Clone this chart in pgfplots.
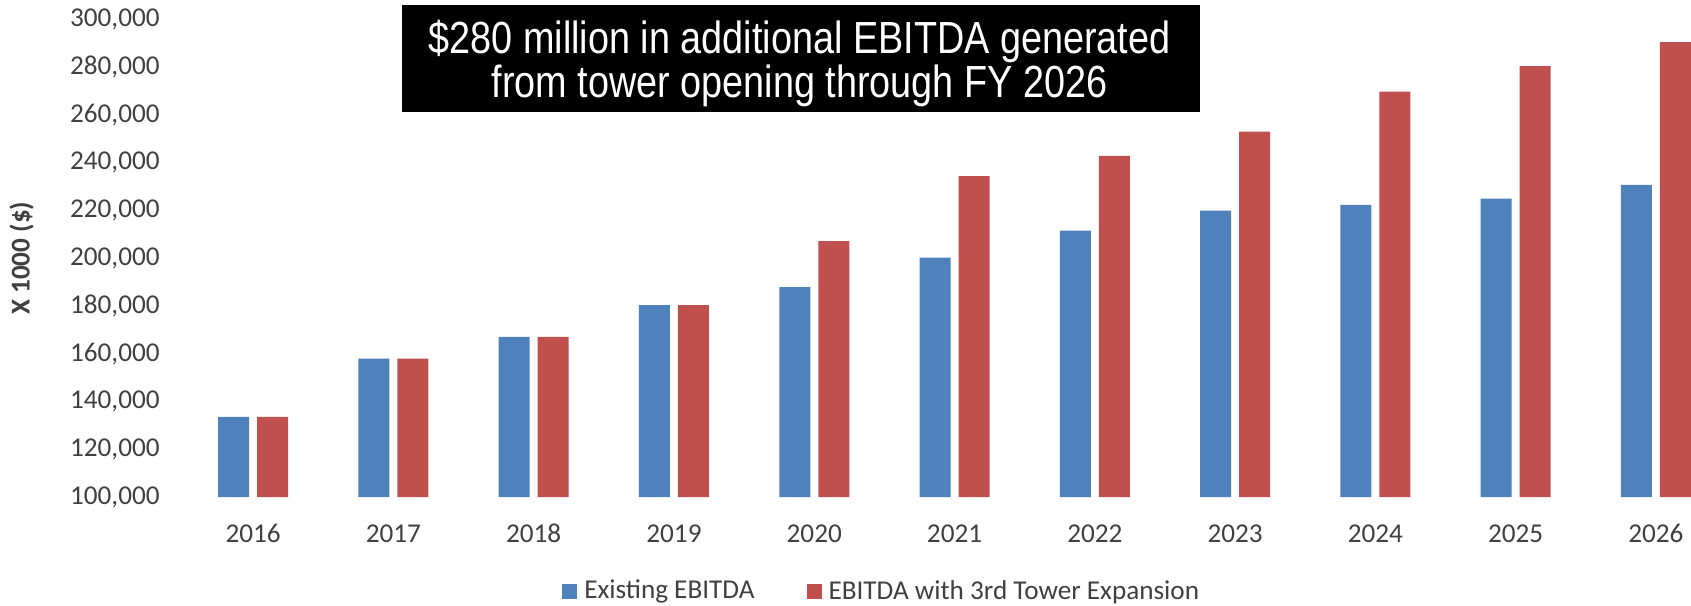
\documentclass[border=0pt]{standalone}
\usepackage{graphicx}
\usepackage{pgfplots}
\pgfplotsset{compat=1.18}
\usepackage{fontspec}
\setmainfont{Carlito}
\newfontfamily\arialfont{Liberation Sans}
\definecolor{barblue}{HTML}{4F81BD}
\definecolor{barred}{HTML}{C0504D}
\definecolor{txt}{HTML}{404040}
\begin{document}
\begin{tikzpicture}
\begin{axis}[
  at={(0,0)}, anchor=south west, scale only axis,
  width=754pt, height=238.8pt,
  xmin=-0.5, xmax=10.25, ymin=100000, ymax=300000,
  axis line style={draw=none}, major tick length=0pt,
  ytick={100000,120000,...,300000},
  xtick={0,1,2,3,4,5,6,7,8,9,10},
  xticklabels={2016,2017,2018,2019,2020,2021,2022,2023,2024,2025,2026},
  scaled y ticks=false,
  /pgf/number format/.cd, fixed, precision=0, 1000 sep={,}, assume math mode=true,
  /pgfplots/.cd,
  ybar=4pt, bar width=15.5pt,
  tick label style={font=\fontsize{13.6pt}{16pt}\selectfont, text=txt},
  yticklabel style={anchor=east, inner sep=0pt, xshift=-11.5pt},
  xticklabel style={anchor=north, inner sep=0pt, yshift=-13.5pt},
  ylabel={X 1000 (\$)},
  ylabel style={at={(axis description cs:-0.107,0.5)}, anchor=center, font=\bfseries\fontsize{13.6pt}{16pt}\selectfont, text=txt},
  legend style={at={(axis description cs:0.464,-0.197)}, anchor=center, draw=none, fill=none,
    legend columns=2, font=\fontsize{13.6pt}{16pt}\selectfont, text=txt,
    /tikz/every even column/.append style={column sep=24pt},
    /tikz/every odd column/.append style={column sep=1.5pt}},
]
\addplot[fill=barblue, draw=none, legend image code/.code={\fill[barblue] (0pt,-3.75pt) rectangle (7.5pt,3.75pt);}] coordinates {
(0,133600) (1,157900) (2,167100) (3,180400) (4,187900) (5,200200) (6,211500) (7,219900) (8,222300) (9,224900) (10,230700)};
\addlegendentry{Existing EBITDA}
\addplot[fill=barred, draw=none, legend image code/.code={\fill[barred] (0pt,-3.75pt) rectangle (7.5pt,3.75pt);}] coordinates {
(0,133600) (1,157900) (2,167100) (3,180400) (4,207200) (5,234400) (6,242800) (7,253000) (8,269800) (9,280400) (10,290500)};
\addlegendentry{EBITDA with 3rd Tower Expansion}
\end{axis}
\node[fill=black, minimum width=399pt, minimum height=53.5pt, inner sep=0pt] at (309pt,219.25pt) {};
\node[anchor=base, text=white, inner sep=0pt, font=\arialfont\fontsize{22.5pt}{26pt}\selectfont] at (308.3pt,221.5pt) {\scalebox{0.84}[1]{\$280 million in additional EBITDA generated}};
\node[anchor=base, text=white, inner sep=0pt, font=\arialfont\fontsize{22.5pt}{26pt}\selectfont] at (308.3pt,199.8pt) {\scalebox{0.84}[1]{from tower opening through FY 2026}};
\pgfresetboundingbox
\useasboundingbox (-91.5pt,-54pt) rectangle (754pt,248.5pt);
\end{tikzpicture}
\end{document}
